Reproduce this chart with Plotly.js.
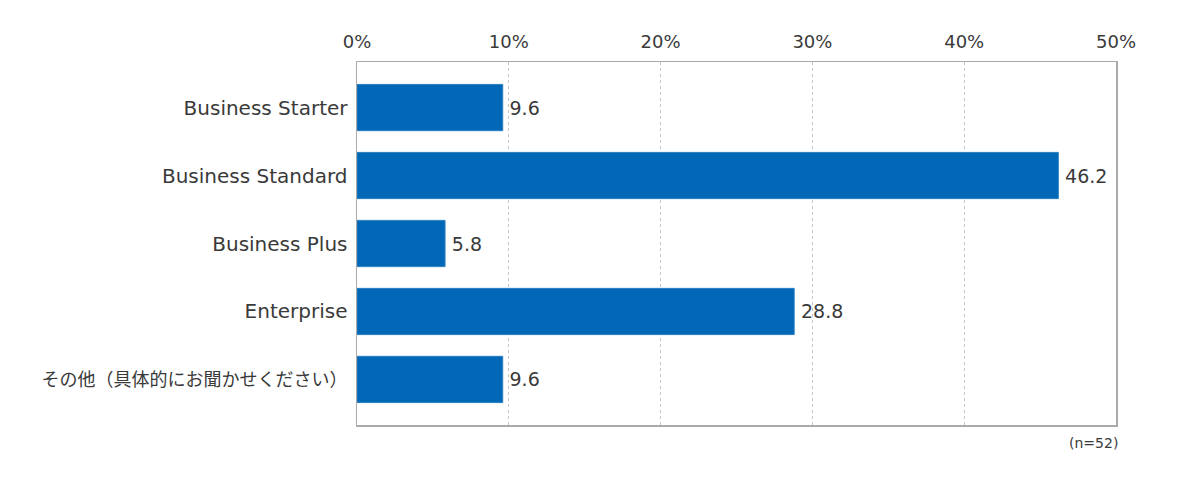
<!DOCTYPE html>
<html>
<head>
<meta charset="utf-8">
<script src="https://cdn.plot.ly/plotly-3.0.1.min.js"></script>
<style>
  body { margin: 0; background: #fff; }
  #chart { width: 1200px; height: 483px; }
</style>
</head>
<body>
<div id="chart"></div>
<script>
const categories = ["Business Starter", "Business Standard", "Business Plus", "Enterprise", "その他（具体的にお聞かせください）"];
const shares = [9.6, 46.2, 5.8, 28.8, 9.6];
const tickValues = [0, 10, 20, 30, 40, 50];
const tickLabels = ["0%", "10%", "20%", "30%", "40%", "50%"];

const fontFamily = '"DejaVu Sans", "Noto Sans CJK JP", sans-serif';

// Japanese label is set a bit smaller so its width matches the original
const categoryLabels = categories.map(c => /[^\x00-\x7f]/.test(c)
    ? '<span style="font-size:18px">' + c + '</span>' : c);

var data = [{
    type: 'bar',
    orientation: 'h',
    y: categories,
    x: shares,
    marker: { color: '#0068b7', line: { color: '#2a7fc0', width: 1 } },
    text: shares.map(v => '\u2009' + v.toFixed(1)),
    textposition: 'outside',
    cliponaxis: false,
    textfont: { family: fontFamily, size: 19, color: '#3a3a3a' },
    hoverinfo: 'none'
}];

var layout = {
    width: 1200,
    height: 483,
    margin: { l: 357, r: 84, t: 62, b: 58 },
    paper_bgcolor: '#fff',
    plot_bgcolor: '#fff',
    showlegend: false,
    bargap: 0.32,
    font: { family: fontFamily, size: 19, color: '#3a3a3a' },
    xaxis: {
        side: 'top',
        range: [0, 50],
        tickvals: tickValues,
        ticktext: tickLabels,
        showgrid: true,
        gridcolor: '#c4c4c4',
        griddash: 'dot',
        gridwidth: 1,
        zeroline: false,
        showline: true,
        mirror: true,
        linecolor: '#aaa',
        linewidth: 1.5,
        ticks: '',
        ticklabelstandoff: 5,
        tickfont: { family: fontFamily, size: 18, color: '#3a3a3a' }
    },
    yaxis: {
        type: 'category',
        range: [4.67, -0.67],
        tickvals: categories,
        ticktext: categoryLabels,
        showgrid: false,
        zeroline: false,
        showline: true,
        mirror: true,
        linecolor: '#aaa',
        linewidth: 1.5,
        ticks: '',
        ticklabelstandoff: 4,
        tickfont: { family: fontFamily, size: 20, color: '#3a3a3a' }
    },
    annotations: [{
        text: '(n=52)',
        xref: 'paper', yref: 'paper',
        x: 1.005, y: -0.022,
        xanchor: 'right', yanchor: 'top',
        showarrow: false,
        font: { family: fontFamily, size: 14, color: '#3a3a3a' }
    }]
};

Plotly.newPlot('chart', data, layout, { displayModeBar: false, staticPlot: true });
</script>
</body>
</html>
